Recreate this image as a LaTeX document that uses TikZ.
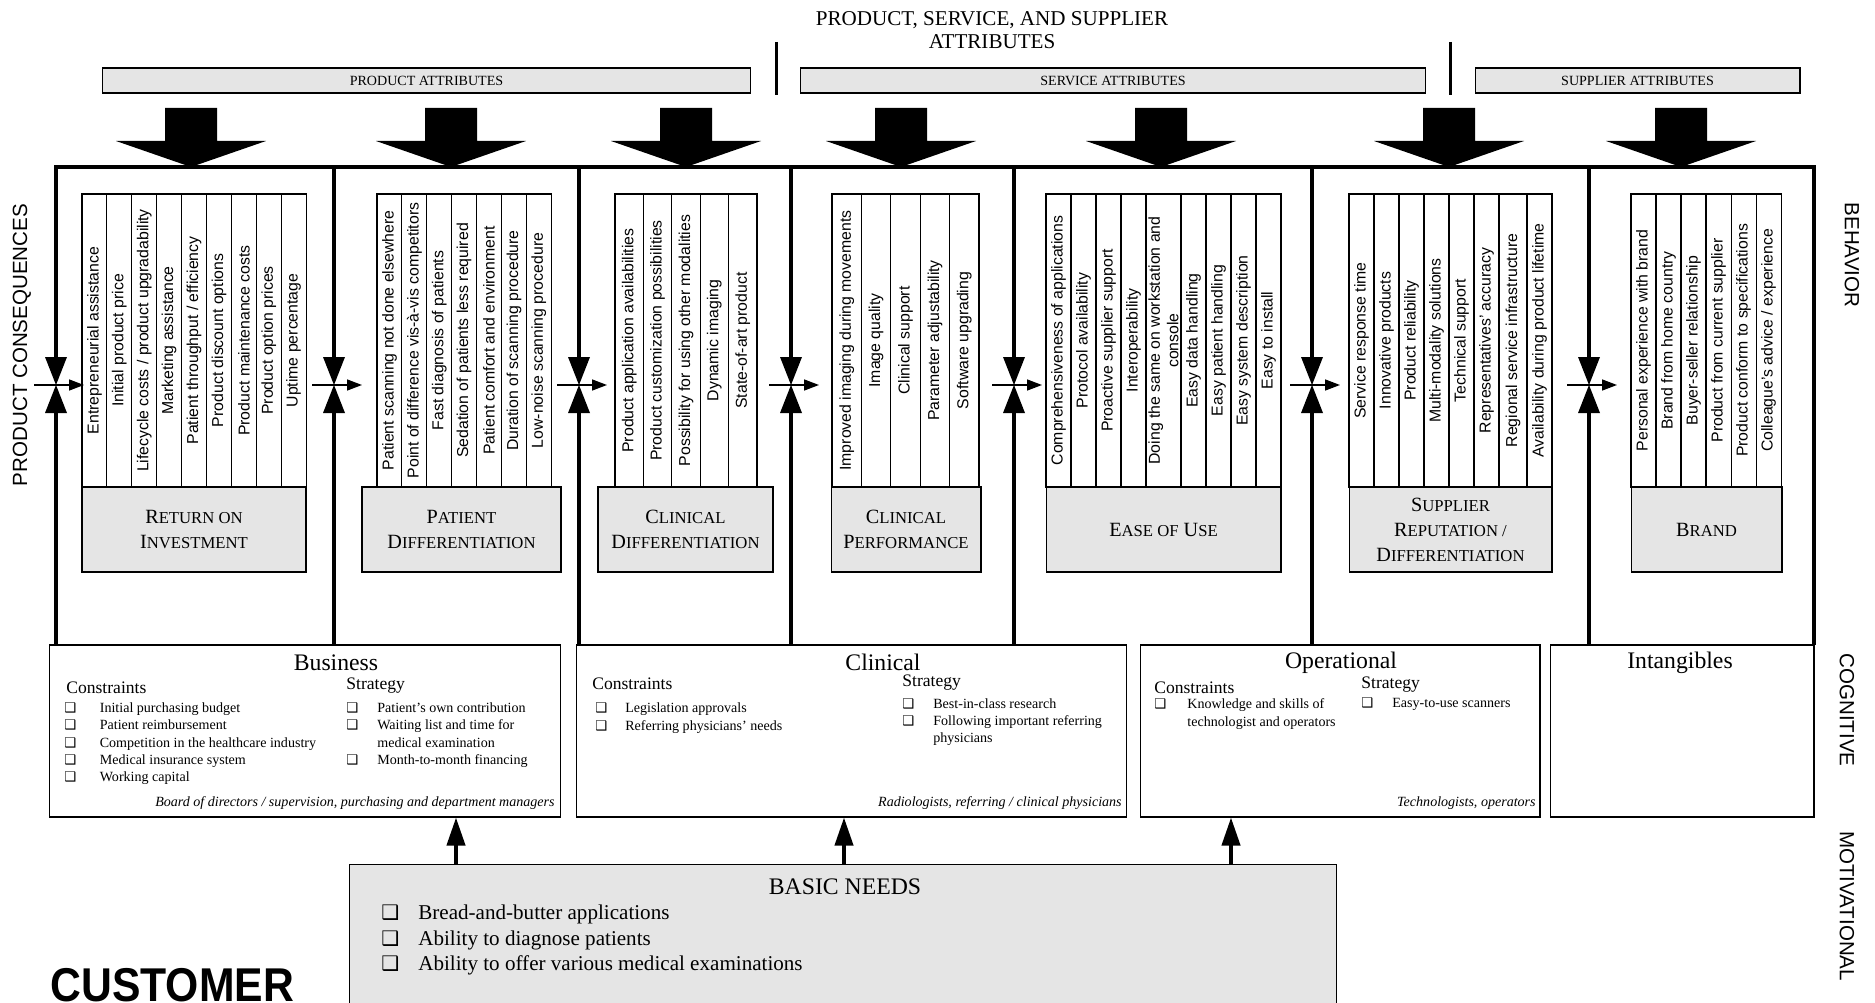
\documentclass[tikz,border=0pt]{standalone}
\usepackage{fontspec}
\usepackage{graphicx}
\setmainfont{Liberation Serif}
\setsansfont{Liberation Sans}
\newfontfamily\symfont{DejaVu Sans}
\usetikzlibrary{arrows.meta}

% small caps made by hand
\newcommand{\scp}[1]{{\fontsize{9.5}{14.2}\selectfont #1}}
\newcommand{\boxbullet}{{\symfont\scalebox{0.95}{❑}}}
\newcommand{\itemtab}{0.7cm}
\newcommand{\itm}{\makebox[\itemtab][l]{\boxbullet}}
\newcommand{\itmcont}{\hspace*{\itemtab}}

% one table of rotated attributes: name, left edge, list of width/text
\newcommand{\attrcols}[3]{%
  \xdef\colx{#2}%
  \foreach \cw/\txt [count=\i] in {#3} {%
    \pgfmathsetmacro\cx{\colx+\cw/2}%
    \node[attrcell, minimum height=\cw*0.02cm] (#1-\i) at (\cx,340.5) {\txt};%
    \pgfmathsetmacro\nx{\colx+\cw}%
    \xdef\colx{\nx}%
  }%
}
% lines of a bullet list: [style] name, x, first baseline, step, tab, list
\newcommand{\itemlines}[7][]{%
  \renewcommand{\itemtab}{#6}%
  \foreach \itxt [count=\i] in {#7} {%
    \pgfmathsetmacro\ly{#4+(\i-1)*#5}%
    \node[itemline,#1] (#2-\i) at (#3,\ly) {\itxt};%
  }%
}

\tikzset{
  attrcell/.style={draw, line width=0.6pt, rotate=90, minimum width=5.86cm,
    inner sep=0.5pt, align=center, font=\sffamily\fontsize{9}{10.5}\selectfont},
  catbox/.style={draw, line width=0.6pt, fill=black!10, minimum height=1.7cm,
    align=center, font=\fontsize{11.5}{14.2}\selectfont},
  headbar/.style={draw, line width=0.6pt, fill=black!10, minimum height=0.5cm,
    inner sep=0, font=\fontsize{8}{9}\selectfont},
  levelbox/.style={draw, line width=0.6pt, minimum height=3.44cm},
  boxtitle/.style={anchor=base, inner sep=0, font=\fontsize{13.5}{15}\selectfont},
  subhead/.style={anchor=base west, inner sep=0, font=\fontsize{10}{12}\selectfont},
  itemline/.style={anchor=base west, inner sep=0, font=\fontsize{8}{9.8}\selectfont},
  roles/.style={anchor=base east, inner sep=0, font=\itshape\fontsize{8}{9.8}\selectfont},
  sidelabel/.style={inner sep=0, font=\sffamily\fontsize{11.7}{13}\selectfont},
  mainline/.style={line width=0.09cm},
  crossarrow/.style={line width=0.03cm, -{Triangle[length=0.3cm,width=0.22cm]}},
  needarrow/.style={line width=0.08cm, -{Triangle[length=0.56cm,width=0.36cm]}},
}

\begin{document}
\begin{tikzpicture}[x=0.02cm, y=-0.02cm]
  \useasboundingbox (0,0) rectangle (1875,1003);

  % heading and attribute bars
  \node[font=\fontsize{12}{13}\selectfont, align=center] (title) at (992,30)
    {PRODUCT, SERVICE, AND SUPPLIER\\ATTRIBUTES};
  \node[headbar, minimum width=12.98cm] (prodbar) at (426.5,80.5) {PRODUCT ATTRIBUTES};
  \node[headbar, minimum width=12.52cm] (servbar) at (1113,80.5) {SERVICE ATTRIBUTES};
  \node[headbar, minimum width=6.5cm] (suppbar) at (1637.5,80.5) {SUPPLIER ATTRIBUTES};
  \draw[line width=0.06cm] (776,42) -- (776,95);
  \draw[line width=0.06cm] (1450,42) -- (1450,95);

  % block arrows onto the frame
  \foreach \c in {191,451,686,901,1161,1449,1681}
    \fill (\c-26,108) -- (\c+26,108) -- (\c+26,141) -- (\c+75,141)
      -- (\c,167) -- (\c-75,141) -- (\c-26,141) -- cycle;

  % frame
  \draw[mainline] (56,357) |- (1814,167) -- (1814,645);
  \foreach \X [count=\j] in {56,334,579,791,1014,1312,1589} {
    \coordinate (j\j) at (\X,385);
    \draw[mainline] (\X,167) -- (\X,357);
    \draw[mainline] (\X,413) -- (\X,645);
    \fill (\X-11,357) -- (\X+11,357) -- (j\j) -- cycle;
    \fill (\X-11,413) -- (\X+11,413) -- (j\j) -- cycle;
    \draw[crossarrow] (\X-22,385) -- (\X+28,385);
  }

  % attribute tables
  \attrcols{roi}{82}{24.9/Entrepreneurial assistance, 24.9/Initial product price,
    24.9/{Lifecycle costs / product upgradability}, 24.9/Marketing assistance,
    24.9/{Patient throughput / efficiency}, 24.9/Product discount options,
    24.9/Product maintenance costs, 24.9/Product option prices, 24.9/Uptime percentage}
  \attrcols{pd}{377}{24.9/Patient scanning not done elsewhere,
    24.9/Point of difference vis-à-vis competitors, 24.9/Fast diagnosis of patients,
    24.9/Sedation of patients less required, 24.9/Patient comfort and environment,
    24.9/Duration of scanning procedure, 24.9/Low-noise scanning procedure}
  \attrcols{cd}{615}{28.4/Product application availabilities,
    28.4/Product customization possibilities, 28.4/Possibility for using other modalities,
    28.4/Dynamic imaging, 28.4/State-of-art product}
  \attrcols{cp}{832}{29.4/Improved imaging during movements, 29.4/Image quality,
    29.4/Clinical support, 29.4/Parameter adjustability, 29.4/Software upgrading}
  \attrcols{eou}{1046}{25/Comprehensiveness of applications, 25/Protocol availability,
    25/Proactive supplier support, 25/Interoperability,
    35/{Doing the same on workstation and\\console}, 25/Easy data handling,
    25/Easy patient handling, 25/Easy system description, 25/Easy to install}
  \attrcols{sr}{1349}{25/Service response time, 25/Innovative products,
    25/Product reliability, 25/Multi-modality solutions, 25/Technical support,
    25/Representatives' accuracy, 28/Regional service infrastructure,
    25/Availability during product lifetime}
  \attrcols{br}{1631}{25/Personal experience with brand, 25/Brand from home country,
    25/Buyer-seller relationship, 25/Product from current supplier,
    25/Product conform to specifications, 25/{Colleague's advice / experience}}

  % consequence boxes
  \node[catbox, minimum width=4.48cm] (roibox) at (194,529.5) {R\scp{ETURN ON}\\I\scp{NVESTMENT}};
  \node[catbox, minimum width=3.98cm] (pdbox) at (461.5,529.5) {P\scp{ATIENT}\\D\scp{IFFERENTIATION}};
  \node[catbox, minimum width=3.5cm] (cdbox) at (685.5,529.5) {C\scp{LINICAL}\\D\scp{IFFERENTIATION}};
  \node[catbox, minimum width=3cm] (cpbox) at (906,529.5) {C\scp{LINICAL}\\P\scp{ERFORMANCE}};
  \node[catbox, minimum width=4.7cm] (eoubox) at (1163.5,529.5) {E\scp{ASE OF} U\scp{SE}};
  \node[catbox, minimum width=4.06cm] (srbox) at (1450.5,529.5) {S\scp{UPPLIER}\\R\scp{EPUTATION /}\\D\scp{IFFERENTIATION}};
  \node[catbox, minimum width=3.02cm] (brbox) at (1706.5,529.5) {B\scp{RAND}};

  % cognitive level
  \node[levelbox, minimum width=10.24cm] (business) at (305,731) {};
  \node[levelbox, minimum width=11.02cm] (clinical) at (851.5,731) {};
  \node[levelbox, minimum width=8cm] (operational) at (1340,731) {};
  \node[levelbox, minimum width=5.28cm] (intangibles) at (1682,731) {};

  \node[boxtitle] (business-t) at (336,670) {Business};
  \node[boxtitle] (clinical-t) at (883,670) {Clinical};
  \node[boxtitle] (operational-t) at (1341,668) {Operational};
  \node[boxtitle] (intangibles-t) at (1680,668) {Intangibles};

  \node[subhead] (business-c) at (66,693) {Constraints};
  \node[subhead] (business-s) at (346,689) {Strategy};
  \node[subhead] (clinical-c) at (592,689) {Constraints};
  \node[subhead] (clinical-s) at (902,686) {Strategy};
  \node[subhead] (operational-c) at (1154,693) {Constraints};
  \node[subhead] (operational-s) at (1361,688) {Strategy};

  \itemlines{busc}{64}{712.5}{17.3}{0.71cm}{\itm Initial purchasing budget,
    \itm Patient reimbursement, \itm Competition in the healthcare industry,
    \itm Medical insurance system, \itm Working capital}
  \itemlines{buss}{346}{712.5}{17.3}{0.62cm}{\itm Patient's own contribution,
    \itm Waiting list and time for, \itmcont medical examination,
    \itm Month-to-month financing}
  \itemlines{clic}{595}{712.5}{18}{0.6cm}{\itm Legislation approvals,
    \itm Referring physicians' needs}
  \itemlines{clis}{902}{708.5}{17}{0.62cm}{\itm Best-in-class research,
    \itm Following important referring, \itmcont physicians}
  \itemlines{opc}{1154}{708.5}{17.5}{0.66cm}{\itm Knowledge and skills of,
    \itmcont technologist and operators}
  \itemlines{ops}{1361}{707.5}{17}{0.62cm}{\itm Easy-to-use scanners}

  \node[roles] (business-r) at (555,806) {Board of directors / supervision, purchasing and department managers};
  \node[roles] (clinical-r) at (1122,806) {Radiologists, referring / clinical physicians};
  \node[roles] (operational-r) at (1536,806) {Technologists, operators};

  % motivational level
  \node[fill=black!10, minimum width=19.72cm, minimum height=2.76cm, inner sep=0] (needs) at (843,934) {};
  \draw[line width=0.6pt] (needs.south west) |- (needs.north east) -- (needs.south east);
  \node[boxtitle] (needs-t) at (845,894) {BASIC NEEDS};
  \itemlines[font=\fontsize{12}{14}\selectfont]{need}{381}{919.5}{25.5}{0.74cm}{%
    \itm Bread-and-butter applications, \itm Ability to diagnose patients,
    \itm Ability to offer various medical examinations}

  \foreach \ax/\tgt in {456/business, 844/clinical, 1231/operational}
    \draw[needarrow] (needs.north -| \ax,0) -- (\tgt.south -| \ax,0);

  % side labels
  \node[sidelabel, rotate=90] (conseq) at (22,345) {PRODUCT CONSEQUENCES};
  \node[sidelabel, rotate=-90] (behavior) at (1852,255) {BEHAVIOR};
  \node[sidelabel, rotate=-90] (cognitive) at (1847,710) {COGNITIVE};
  \node[sidelabel, rotate=-90] (motivational) at (1847,906) {MOTIVATIONAL};
  \node[anchor=base west, inner sep=0, font=\sffamily\bfseries\fontsize{27}{29}\selectfont]
    (customer) at (50,1001) {\scalebox{0.9}[1]{CUSTOMER}};
\end{tikzpicture}
\end{document}
